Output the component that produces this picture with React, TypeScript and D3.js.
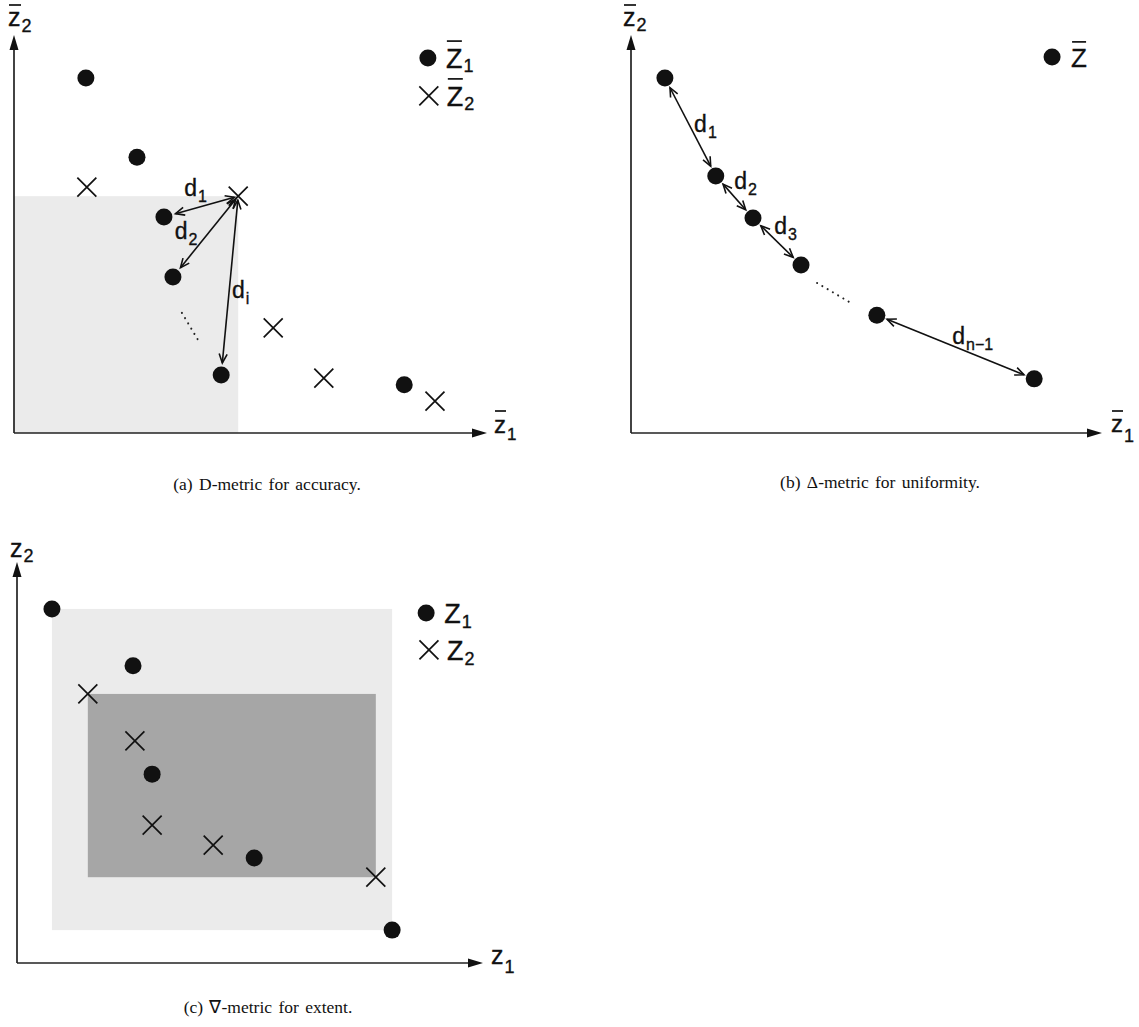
import React from "react";
import * as d3 from "d3";

type P = [number, number];

// ---------- Panel (a): D-metric ----------
const aZ1: P[] = [[15.2, 89.2], [26.0, 69.3], [31.7, 54.3], [33.6, 39.2], [43.8, 14.6], [82.5, 12.1]];
const aZ2: P[] = [[15.4, 61.8], [47.4, 59.5], [54.8, 26.4], [65.5, 13.8], [89.0, 8.0]];
const aRefIndex = 1;
const aTargetIndex = [2, 3, 4];
const aDistNames = [["d", "1"], ["d", "2"], ["d", "i"]];
const aDistLabelPos: P[] = [[36.0, 59.5], [34.0, 48.8], [46.1, 33.9]];
const aDotted: P[] = [[35.5, 30.2], [39.3, 22.6]];
const aLegend = [["Z", "1"], ["Z", "2"]];
const aLegendPos: P[] = [[87.5, 94.2], [87.7, 84.7]];

// ---------- Panel (b): Delta-metric ----------
const bZ: P[] = [[7.2, 89.2], [18.0, 64.6], [25.9, 54.0], [36.1, 42.2], [52.2, 29.6], [85.6, 13.6]];
const bPairs: [number, number][] = [[0, 1], [1, 2], [2, 3], [4, 5]];
const bDistNames = [["d", "1"], ["d", "2"], ["d", "3"], ["d", "n\u22121"]];
const bDistLabelPos: P[] = [[13.4, 75.6], [21.9, 61.3], [30.4, 49.9], [68.2, 22.3]];
const bDotted: P[] = [[39.5, 37.7], [47.1, 32.4]];
const bLegendPos: P = [89.4, 94.5];

// ---------- Panel (c): Nabla-metric ----------
const cZ1: P[] = [[7.5, 88.3], [24.9, 74.1], [29.0, 47.1], [50.9, 26.2], [80.5, 8.2]];
const cZ2: P[] = [[15.2, 67.1], [25.3, 55.4], [29.0, 34.4], [42.1, 29.4], [77.0, 21.4]];
const cLegend = [["Z", "1"], ["Z", "2"]];
const cLegendPos: P[] = [[87.8, 87.3], [88.4, 78.1]];

const captions = ["(a) D-metric for accuracy.", "(b) \u0394-metric for uniformity.", "(c) \u2207-metric for extent."];

const SANS = "'Liberation Sans', Arial, Helvetica, sans-serif";
const SERIF = "'Liberation Serif', 'Times New Roman', serif";
const INK = "#111";

const xa = d3.scaleLinear().domain([0, 100]).range([14, 487]);
const ya = d3.scaleLinear().domain([0, 100]).range([433, 35]);
const xb = d3.scaleLinear().domain([0, 100]).range([631, 1102]);
const yb = d3.scaleLinear().domain([0, 100]).range([433, 35]);
const xc = d3.scaleLinear().domain([0, 100]).range([17, 483]);
const yc = d3.scaleLinear().domain([0, 100]).range([963, 562]);

function Dot({ x, y }: { x: number; y: number }) {
  return <circle cx={x} cy={y} r={8.5} fill={INK} />;
}
function Cross({ x, y }: { x: number; y: number }) {
  const s = 9.5;
  return (
    <path d={`M${x - s},${y - s}L${x + s},${y + s}M${x - s},${y + s}L${x + s},${y - s}`} stroke={INK} strokeWidth={1.7} fill="none" />
  );
}

function Axes({ x0, y0, x1, y1 }: { x0: number; y0: number; x1: number; y1: number }) {
  const L = 15, w = 4.5;
  return (
    <g>
      <line x1={x0} y1={y0} x2={x1 - 4} y2={y0} stroke="#222" strokeWidth={1.7} />
      <line x1={x0} y1={y0} x2={x0} y2={y1 + 4} stroke="#222" strokeWidth={1.7} />
      <path d={`M${x1},${y0}L${x1 - L},${y0 - w}L${x1 - L},${y0 + w}Z`} fill="#111" />
      <path d={`M${x0},${y1}L${x0 - w},${y1 + L}L${x0 + w},${y1 + L}Z`} fill="#111" />
    </g>
  );
}

function DoubleArrow({ p0, p1, s0, s1 }: { p0: P; p1: P; s0: number; s1: number }) {
  const dx = p1[0] - p0[0], dy = p1[1] - p0[1];
  const len = Math.hypot(dx, dy);
  const ux = dx / len, uy = dy / len;
  const a: P = [p0[0] + ux * s0, p0[1] + uy * s0];
  const b: P = [p1[0] - ux * s1, p1[1] - uy * s1];
  const hl = 9, hw = 4;
  const head = (tip: P, dirx: number, diry: number) => {
    const bx = tip[0] - dirx * hl, by = tip[1] - diry * hl;
    const nx = -diry, ny = dirx;
    return `M${bx + nx * hw},${by + ny * hw}L${tip[0]},${tip[1]}L${bx - nx * hw},${by - ny * hw}`;
  };
  return (
    <g stroke={INK} strokeWidth={1.6} fill="none" strokeLinejoin="miter">
      <line x1={a[0]} y1={a[1]} x2={b[0]} y2={b[1]} />
      <path d={head(a, -ux, -uy)} />
      <path d={head(b, ux, uy)} />
    </g>
  );
}

function SubLabel({ x, y, base, sub, fs, sfs, sdy, bar, barGap, barW }: {
  x: number; y: number; base: string; sub?: string; fs: number; sfs: number; sdy: number; bar?: boolean; barGap?: number; barW?: number;
}) {
  return (
    <g>
      <text x={x} y={y} fontFamily={SANS} fontSize={fs} fill={INK} stroke={INK} strokeWidth={0.35}>
        {base}
        {sub ? <tspan dx={1} dy={sdy} fontSize={sfs}>{sub}</tspan> : null}
      </text>
      {bar ? <line x1={x + 1} x2={x + (barW || 12)} y1={y - (barGap || 20)} y2={y - (barGap || 20)} stroke={INK} strokeWidth={1.7} /> : null}
    </g>
  );
}

function Dotted({ pts, sx, sy }: { pts: P[]; sx: any; sy: any }) {
  return (
    <line x1={sx(pts[0][0])} y1={sy(pts[0][1])} x2={sx(pts[1][0])} y2={sy(pts[1][1])} stroke="#222" strokeWidth={2} strokeLinecap="round" strokeDasharray="0.1 6" />
  );
}

export default function App() {
  const ref = aZ2[aRefIndex];
  return (
    <svg width={1139} height={1027} viewBox="0 0 1139 1027" style={{ position: "absolute", left: 0, top: 0, background: "#fff" }}>
      <rect x={0} y={0} width={1139} height={1027} fill="#fff" />

      {/* Panel (a) */}
      <rect x={xa(0)} y={ya(ref[1])} width={xa(ref[0]) - xa(0)} height={ya(0) - ya(ref[1])} fill="#ebebeb" />
      <Axes x0={xa(0)} y0={ya(0)} x1={xa.range()[1]} y1={ya.range()[1]} />
      {aZ1.map((p, i) => <Dot key={"a1" + i} x={xa(p[0])} y={ya(p[1])} />)}
      {aZ2.map((p, i) => <Cross key={"a2" + i} x={xa(p[0])} y={ya(p[1])} />)}
      {aTargetIndex.map((ti, i) => (
        <DoubleArrow key={"aa" + i} p0={[xa(ref[0]), ya(ref[1])]} p1={[xa(aZ1[ti][0]), ya(aZ1[ti][1])]} s0={4} s1={12} />
      ))}
      {aDistNames.map((n, i) => (
        <SubLabel key={"ad" + i} x={xa(aDistLabelPos[i][0])} y={ya(aDistLabelPos[i][1])} base={n[0]} sub={n[1]} fs={23} sfs={16} sdy={6} />
      ))}
      <Dotted pts={aDotted} sx={xa} sy={ya} />
      <SubLabel x={8} y={26} base="z" sub="2" fs={25} sfs={18} sdy={6} bar barGap={21} barW={13} />
      <SubLabel x={494} y={433} base="z" sub="1" fs={24} sfs={17} sdy={7} bar barGap={22} barW={12} />
      <Dot x={xa(aLegendPos[0][0])} y={ya(aLegendPos[0][1])} />
      <Cross x={xa(aLegendPos[1][0])} y={ya(aLegendPos[1][1])} />
      {aLegend.map((n, i) => (
        <SubLabel key={"al" + i} x={xa(aLegendPos[i][0]) + 18} y={ya(aLegendPos[i][1]) + 10} base={n[0]} sub={n[1]} fs={27} sfs={18} sdy={4} bar barGap={27} barW={16} />
      ))}

      {/* Panel (b) */}
      <Axes x0={xb(0)} y0={yb(0)} x1={xb.range()[1]} y1={yb.range()[1]} />
      {bZ.map((p, i) => <Dot key={"b" + i} x={xb(p[0])} y={yb(p[1])} />)}
      {bPairs.map(([i0, i1], i) => (
        <DoubleArrow key={"ba" + i} p0={[xb(bZ[i0][0]), yb(bZ[i0][1])]} p1={[xb(bZ[i1][0]), yb(bZ[i1][1])]} s0={11} s1={11} />
      ))}
      {bDistNames.map((n, i) => (
        <SubLabel key={"bd" + i} x={xb(bDistLabelPos[i][0])} y={yb(bDistLabelPos[i][1])} base={n[0]} sub={n[1]} fs={23} sfs={16} sdy={6} />
      ))}
      <Dotted pts={bDotted} sx={xb} sy={yb} />
      <SubLabel x={623} y={26} base="z" sub="2" fs={25} sfs={18} sdy={5} bar barGap={21} barW={13} />
      <SubLabel x={1111} y={432} base="z" sub="1" fs={24} sfs={18} sdy={10} bar barGap={21} barW={12} />
      <Dot x={xb(bLegendPos[0])} y={yb(bLegendPos[1])} />
      <SubLabel x={xb(bLegendPos[0]) + 19} y={yb(bLegendPos[1]) + 10} base="Z" fs={26} sfs={16} sdy={4} bar barGap={25} barW={15} />

      {/* Panel (c) */}
      <rect x={xc(d3.min(cZ1, (d) => d[0])!)} y={yc(d3.max(cZ1, (d) => d[1])!)}
        width={xc(d3.max(cZ1, (d) => d[0])!) - xc(d3.min(cZ1, (d) => d[0])!)}
        height={yc(d3.min(cZ1, (d) => d[1])!) - yc(d3.max(cZ1, (d) => d[1])!)} fill="#ebebeb" />
      <rect x={xc(d3.min(cZ2, (d) => d[0])!)} y={yc(d3.max(cZ2, (d) => d[1])!)}
        width={xc(d3.max(cZ2, (d) => d[0])!) - xc(d3.min(cZ2, (d) => d[0])!)}
        height={yc(d3.min(cZ2, (d) => d[1])!) - yc(d3.max(cZ2, (d) => d[1])!)} fill="#a6a6a6" />
      <Axes x0={xc(0)} y0={yc(0)} x1={xc.range()[1]} y1={yc.range()[1]} />
      {cZ1.map((p, i) => <Dot key={"c1" + i} x={xc(p[0])} y={yc(p[1])} />)}
      {cZ2.map((p, i) => <Cross key={"c2" + i} x={xc(p[0])} y={yc(p[1])} />)}
      <SubLabel x={10} y={557} base="z" sub="2" fs={25} sfs={18} sdy={5} />
      <SubLabel x={491} y={964} base="z" sub="1" fs={25} sfs={18} sdy={9} />
      <Dot x={xc(cLegendPos[0][0])} y={yc(cLegendPos[0][1])} />
      <Cross x={xc(cLegendPos[1][0])} y={yc(cLegendPos[1][1])} />
      {cLegend.map((n, i) => (
        <SubLabel key={"cl" + i} x={xc(cLegendPos[i][0]) + 18} y={yc(cLegendPos[i][1]) + 10} base={n[0]} sub={n[1]} fs={27} sfs={18} sdy={5} />
      ))}

      {/* Captions */}
      <text x={267} y={490} textAnchor="middle" fontFamily={SERIF} fontSize={17.5} wordSpacing={2} fill={INK}>{captions[0]}</text>
      <text x={880} y={488} textAnchor="middle" fontFamily={SERIF} fontSize={17.5} wordSpacing={2} fill={INK}>{captions[1]}</text>
      <text x={268} y={1013} textAnchor="middle" fontFamily={SERIF} fontSize={17.5} wordSpacing={2} fill={INK}>{captions[2]}</text>
    </svg>
  );
}
